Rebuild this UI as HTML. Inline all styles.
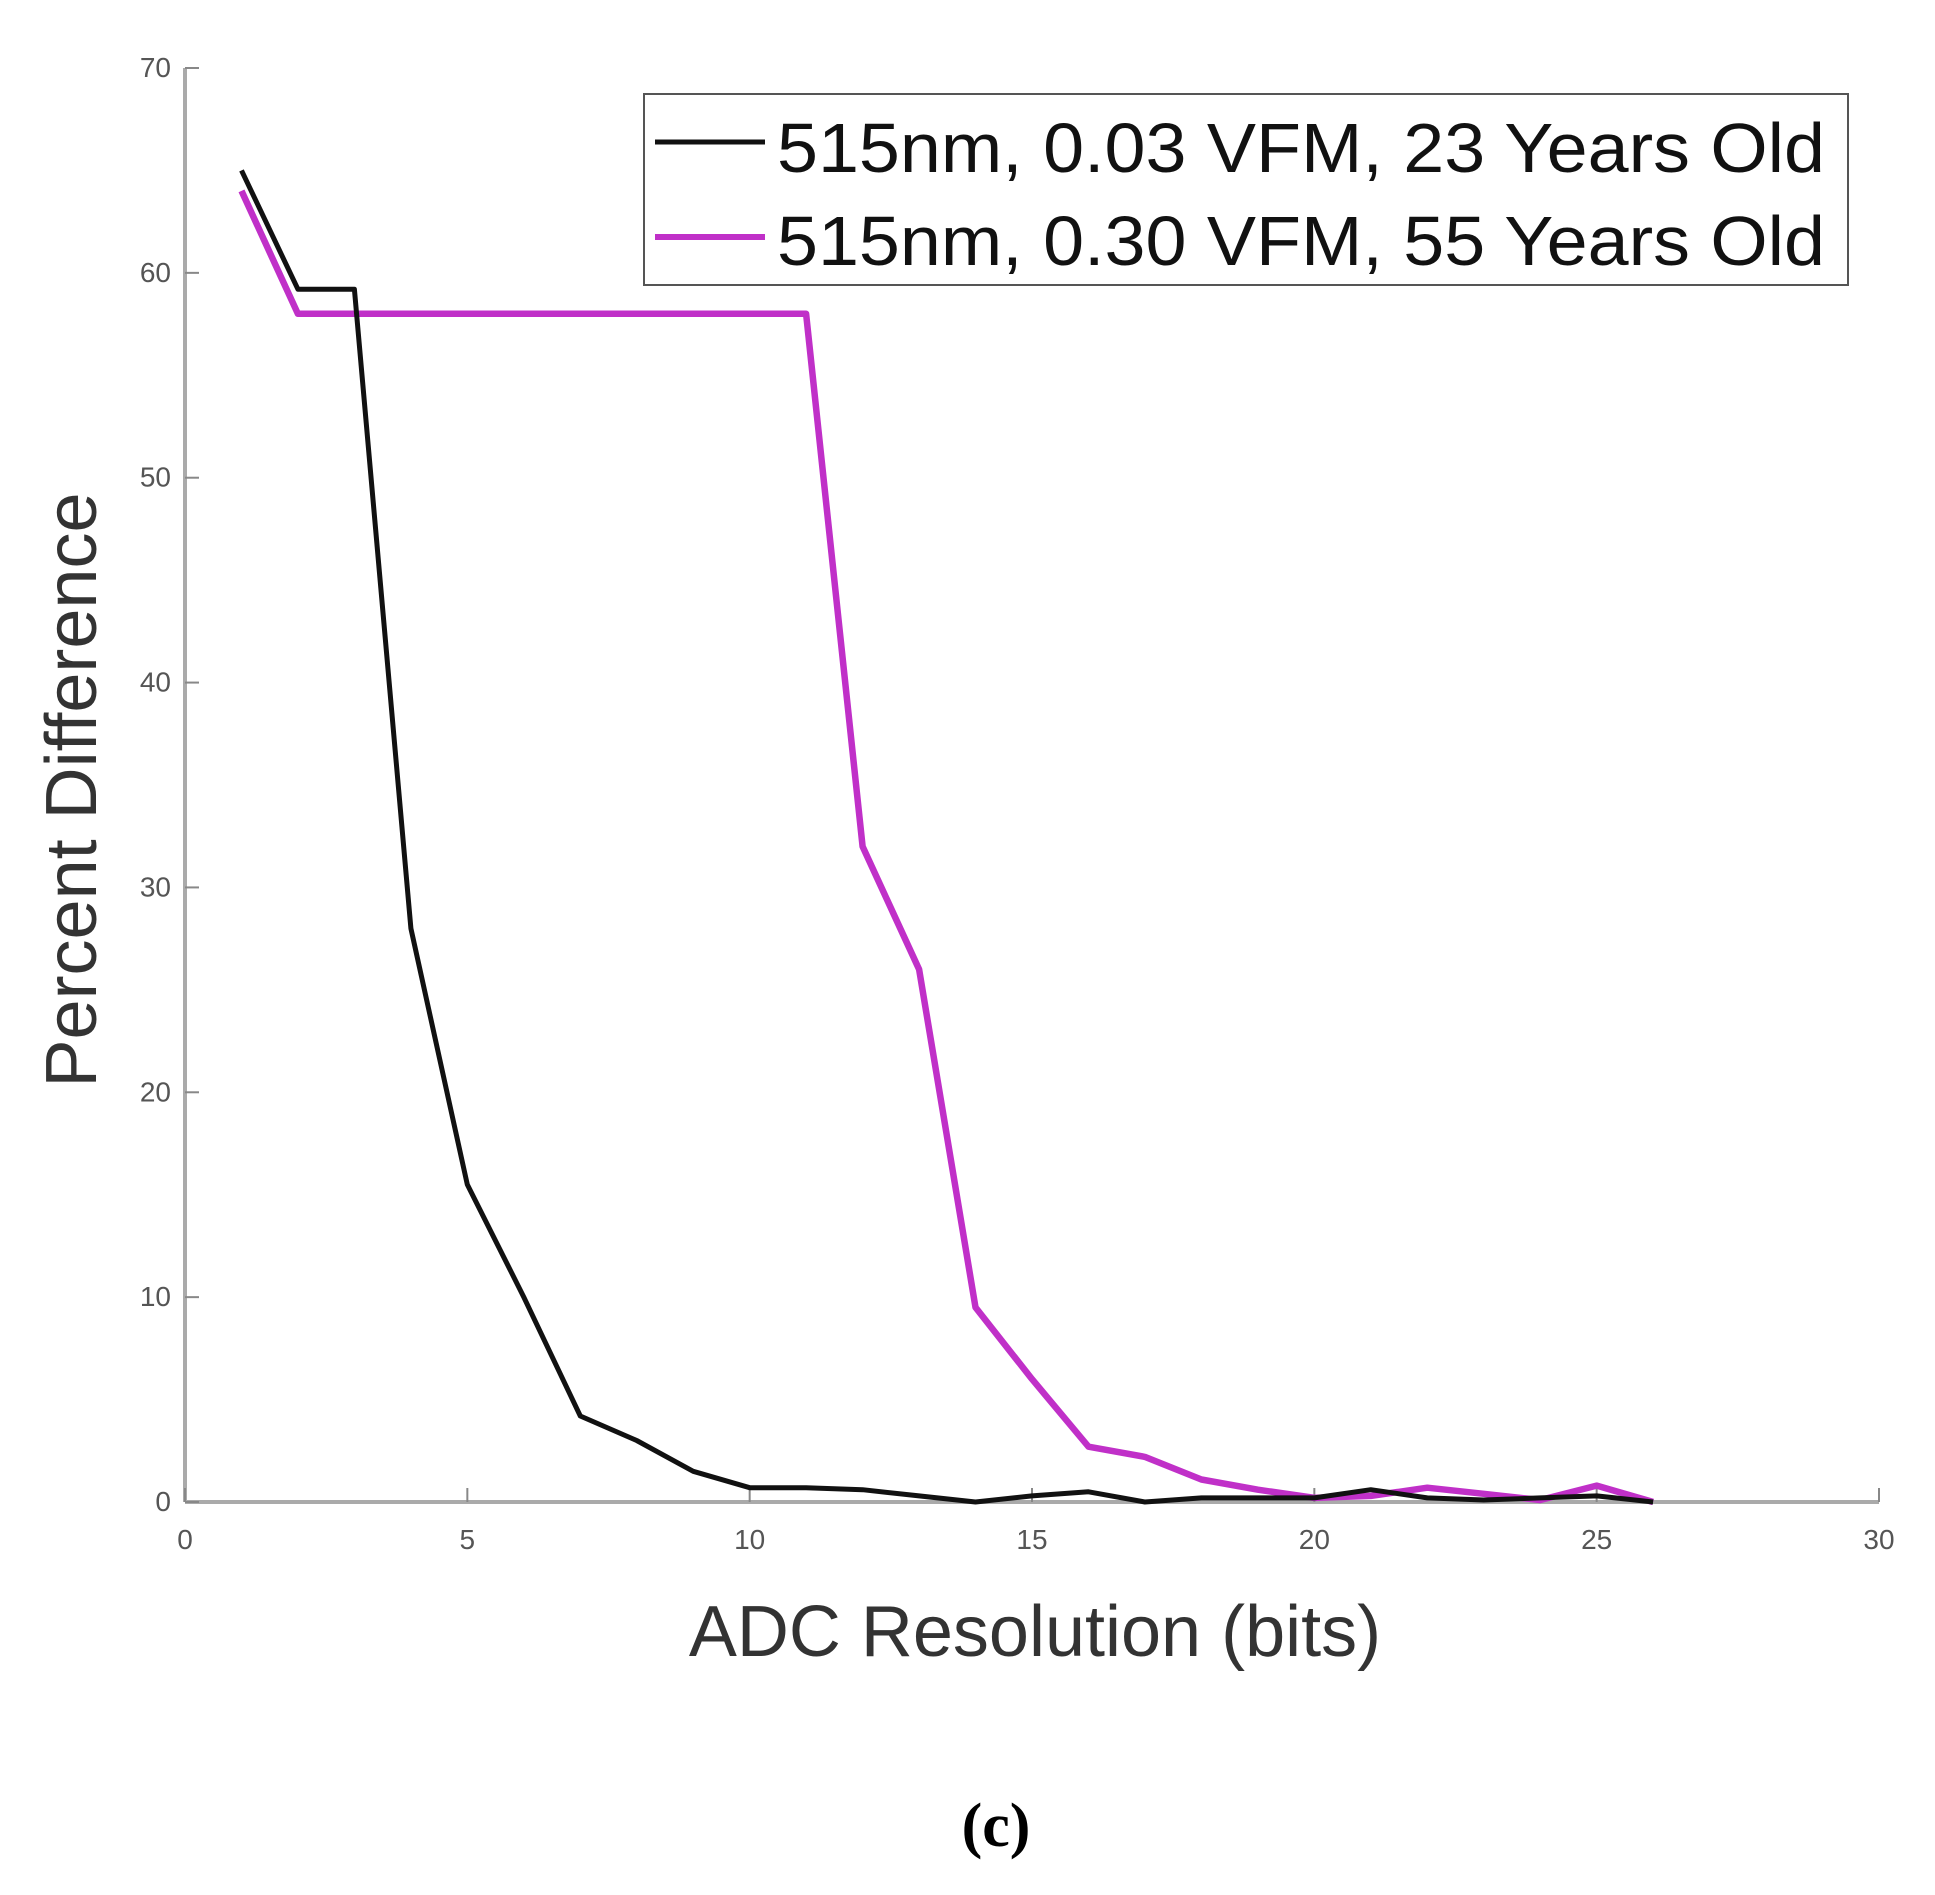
<!DOCTYPE html>
<html><head><meta charset="utf-8"><style>
html,body{margin:0;padding:0;background:#fff;}
svg{display:block;font-family:"Liberation Sans",sans-serif;}
</style></head><body>
<svg id="chart" width="1935" height="1895" viewBox="0 0 1935 1895">
  <g id="axes"></g>
  <g id="series"></g>
  <text x="77" y="790" transform="rotate(-90 77 790)" text-anchor="middle" dominant-baseline="middle" font-size="72" fill="#333">Percent Difference</text>
  <text x="1035" y="1656" text-anchor="middle" font-size="72" fill="#333">ADC Resolution (bits)</text>
  <text x="996" y="1846" text-anchor="middle" font-size="62" font-weight="bold" font-family="Liberation Serif, serif" fill="#000">(c)</text>
  <g>
    <rect x="644" y="94" width="1204" height="191" fill="#fff" stroke="#555" stroke-width="2"/>
    <line x1="655" y1="142" x2="765" y2="142" stroke="#111" stroke-width="5"/>
    <text x="777" y="172" font-size="70" textLength="1048" lengthAdjust="spacingAndGlyphs" fill="#111">515nm, 0.03 VFM, 23 Years Old</text>
    <line x1="655" y1="237" x2="765" y2="237" stroke="#c030c8" stroke-width="6"/>
    <text x="777" y="265" font-size="70" textLength="1048" lengthAdjust="spacingAndGlyphs" fill="#111">515nm, 0.30 VFM, 55 Years Old</text>
  </g>
</svg>
<script>
const xBits = [1,2,3,4,5,6,7,8,9,10,11,12,13,14,15,16,17,18,19,20,21,22,23,24,25,26];
const young23 = [65,59.2,59.2,28,15.5,10,4.2,3,1.5,0.7,0.7,0.6,0.3,0,0.3,0.5,0,0.2,0.2,0.2,0.6,0.2,0.1,0.2,0.3,0];
const old55 = [64,58,58,58,58,58,58,58,58,58,58,32,26,9.5,6,2.7,2.2,1.1,0.6,0.2,0.3,0.7,0.4,0.1,0.8,0];
const xTicks = [0,5,10,15,20,25,30];
const yTicks = [0,10,20,30,40,50,60,70];

const X0=185, X1=1879, Y0=1502, Y1=68;
const sx = v => X0 + (v-0)/(30-0)*(X1-X0);
const sy = v => Y0 - (v-0)/(70-0)*(Y0-Y1);
const NS="http://www.w3.org/2000/svg";
const axes=document.getElementById('axes');
const series=document.getElementById('series');
function mk(tag, attrs, parent){const e=document.createElementNS(NS,tag);for(const k in attrs)e.setAttribute(k,attrs[k]);parent.appendChild(e);return e;}

let l=mk('line',{x1:X0,y1:Y0,x2:X1,y2:Y0,stroke:'#aaa','stroke-width':4},axes);


l=mk('line',{x1:X0,y1:Y0,x2:X0,y2:Y1,stroke:'#aaa','stroke-width':4},axes);



xTicks.forEach(t=>{
  const tk=mk('line',{x1:sx(t),y1:Y0,x2:sx(t),y2:Y0-14,stroke:'#888','stroke-width':2},axes);
  
  
  const tx=mk('text',{x:sx(t),y:Y0+47,'text-anchor':'middle','font-size':28,fill:'#555'},axes);
  tx.textContent=t;
  
  
});
yTicks.forEach(t=>{
  const tk=mk('line',{x1:X0,y1:sy(t),x2:X0+14,y2:sy(t),stroke:'#888','stroke-width':2},axes);
  
  
  const tx=mk('text',{x:X0-14,y:sy(t)+9,'text-anchor':'end','font-size':28,fill:'#555'},axes);
  tx.textContent=t;
  
  
});

function draw(vals,color,w,name){
  const d=vals.map((v,i)=>(i?'L':'M')+sx(xBits[i]).toFixed(1)+' '+sy(v).toFixed(1)).join(' ');
  const p=mk('path',{d:d,fill:'none',stroke:color,'stroke-width':w,'stroke-linejoin':'round'},series);
  
  
}
draw(old55,'#c030c8',6.5,'series-55-years-old');
draw(young23,'#111',5,'series-23-years-old');
</script>
</body></html>
